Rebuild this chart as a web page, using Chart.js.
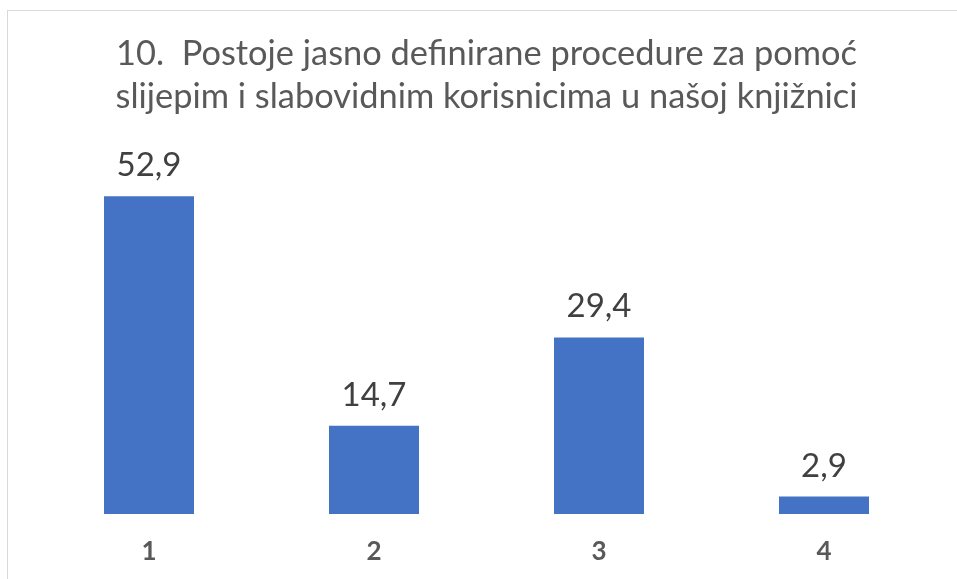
<!DOCTYPE html>
<html>
<head>
<meta charset="utf-8">
<script src="https://cdn.jsdelivr.net/npm/chart.js@4.4.1/dist/chart.umd.min.js"></script>
<style>
  body { margin: 0; background: #fff; overflow: hidden; }
  #frame { position: absolute; left: 7px; top: 10px; width: 1000px; height: 700px; border: 1.5px solid #d9d9d9; box-sizing: border-box; }
  #wrap { position: absolute; left: 0; top: 0; width: 957px; height: 579px; }
</style>
</head>
<body>
<div id="frame"></div>
<div id="wrap"><canvas id="chart"></canvas></div>
<script>
// podaci s grafa
const categories = ['1', '2', '3', '4'];
const values = [52.9, 14.7, 29.4, 2.9];
const titleLines = ['10.  Postoje jasno definirane procedure za pomoć', 'slijepim i slabovidnim korisnicima u našoj knjižnici'];

// oznake vrijednosti iznad stupaca (decimalni zarez)
const valueLabels = {
  id: 'valueLabels',
  afterDatasetsDraw(chart) {
    const ctx = chart.ctx;
    ctx.save();
    ctx.font = '33px Lato';
    ctx.fillStyle = '#404040';
    ctx.textAlign = 'center';
    ctx.textBaseline = 'alphabetic';
    chart.getDatasetMeta(0).data.forEach((bar, i) => {
      ctx.fillText(values[i].toFixed(1).replace('.', ','), bar.x, bar.y - 20);
    });
    ctx.restore();
  }
};

const ctx = document.getElementById('chart').getContext('2d');
new Chart(ctx, {
  type: 'bar',
  data: {
    labels: categories,
    datasets: [{
      data: values,
      backgroundColor: '#4472C4',
      borderWidth: 0,
      barPercentage: 0.4,
      categoryPercentage: 1
    }]
  },
  options: {
    responsive: true,
    maintainAspectRatio: false,
    animation: false,
    layout: { padding: { left: 36.5, right: 20.5, top: 0, bottom: 0 } },
    plugins: {
      legend: { display: false },
      tooltip: { enabled: false },
      title: {
        display: true,
        text: titleLines,
        color: '#595959',
        font: { family: 'Lato', size: 34.4, weight: 'normal', lineHeight: 1.23 },
        padding: { top: 33, bottom: 36 }
      }
    },
    scales: {
      y: { display: false, min: 0, max: 60 },
      x: {
        grid: { display: false, drawTicks: false },
        border: { display: false },
        ticks: {
          color: '#595959',
          padding: 22,
          font: { family: 'Lato', size: 26, weight: 'bold' }
        },
        afterFit(scale) { scale.height = 65; }
      }
    }
  },
  plugins: [valueLabels]
});
</script>
</body>
</html>
